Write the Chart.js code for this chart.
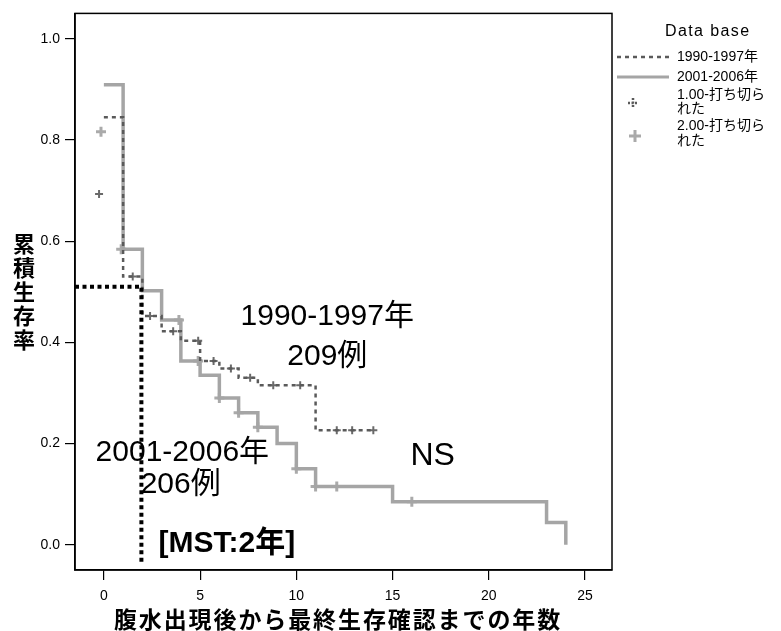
<!DOCTYPE html>
<html lang="ja">
<head>
<meta charset="utf-8">
<script src="https://cdn.jsdelivr.net/npm/chart.js@4.4.1/dist/chart.umd.min.js"></script>
<style>
  html, body { margin: 0; padding: 0; background: #fff; }
  .wrap { position: relative; width: 781px; height: 631px; }
</style>
</head>
<body>
<div class="wrap"><canvas id="km"></canvas></div>
<script>
// 1990-1997 group, KM steps (time in years, cumulative survival)
const oldTimes = [0, 1, 2, 3, 4, 5, 6, 7, 8, 11, 14];
const oldSurv  = [0.845, 0.53, 0.452, 0.422, 0.403, 0.363, 0.348, 0.33, 0.315, 0.226, 0.226];

// 2001-2006 group
const newTimes = [0, 1, 2, 3, 4, 5, 6, 7, 8, 9, 10, 11, 15, 23, 24];
const newSurv  = [0.909, 0.584, 0.502, 0.444, 0.363, 0.335, 0.29, 0.261, 0.232, 0.2, 0.15, 0.115, 0.085, 0.044, 0.0];

// censored cases (打ち切られた)
const oldCensTimes = [-0.25, 1.5, 2.4, 3.6, 4.9, 5.7, 6.6, 7.6, 8.8, 10.2, 12.1, 12.9, 14];
const oldCensSurv  = [0.693, 0.53, 0.452, 0.422, 0.403, 0.363, 0.348, 0.33, 0.315, 0.315, 0.226, 0.226, 0.226];
const newCensTimes = [-0.15, 0.9, 3.9, 4.9, 6, 7, 8, 10, 11, 12.1, 16];
const newCensSurv  = [0.816, 0.584, 0.444, 0.363, 0.29, 0.261, 0.232, 0.15, 0.115, 0.115, 0.085];

// median survival guide line
const mstTimes = [-1.5, 1.95, 1.95];
const mstSurv  = [0.51, 0.51, -0.04];

const xTicks = [0, 5, 10, 15, 20, 25];
const yTitle = ['累', '積', '生', '存', '率'];
const xTitle = '腹水出現後から最終生存確認までの年数';

const legendTitle = 'Data base';
const legendLabels = ['1990-1997年', '2001-2006年', ['1.00-打ち切ら', 'れた'], ['2.00-打ち切ら', 'れた']];

const notes = [
  { text: '1990-1997年', x: 7.1,  y: 0.451, bold: false, size: 30 },
  { text: '209例',       x: 9.53, y: 0.372, bold: false, size: 30 },
  { text: '2001-2006年', x: -0.43, y: 0.182, bold: false, size: 30 },
  { text: '206例',       x: 1.91, y: 0.118, bold: false, size: 30 },
  { text: '[MST:2年]',   x: 2.84, y: 0.002, bold: true,  size: 30 },
  { text: 'NS',          x: 15.93, y: 0.175, bold: false, size: 32 }
];

const FONT = '"Liberation Sans", Arial, "Noto Sans CJK JP", sans-serif';
const CJK = '"Noto Sans CJK JP", "Liberation Sans", sans-serif';

const pts = (xs, ys) => xs.map((x, i) => ({ x, y: ys[i] }));

function cross(ctx, x, y, r, color, w, dash) {
  ctx.save();
  ctx.strokeStyle = color;
  ctx.lineWidth = w;
  if (dash) ctx.setLineDash(dash);
  ctx.beginPath();
  ctx.moveTo(x - r, y); ctx.lineTo(x + r, y);
  ctx.moveTo(x, y - r); ctx.lineTo(x, y + r);
  ctx.stroke();
  ctx.restore();
}

const decor = {
  id: 'decor',
  afterDraw(chart) {
    const { ctx, chartArea: a, scales } = chart;
    ctx.save();
    // frame
    ctx.strokeStyle = '#000';
    ctx.lineWidth = 1.5;
    ctx.strokeRect(a.left, a.top, a.right - a.left, a.bottom - a.top);

    // annotations inside plot
    ctx.fillStyle = '#000';
    ctx.textBaseline = 'middle';
    ctx.textAlign = 'left';
    notes.forEach(n => {
      ctx.font = `${n.bold ? 'bold ' : ''}${n.size}px ${FONT}`;
      ctx.fillText(n.text, scales.x.getPixelForValue(n.x), scales.y.getPixelForValue(n.y));
    });

    // y title, stacked characters
    ctx.font = `bold 22px ${CJK}`;
    ctx.textAlign = 'center';
    yTitle.forEach((ch, i) => ctx.fillText(ch, 24, 244 + i * 24));

    // x title
    ctx.font = `bold 23px ${CJK}`;
    if ('letterSpacing' in ctx) ctx.letterSpacing = '1.9px';
    ctx.fillText(xTitle, 338, 619);
    if ('letterSpacing' in ctx) ctx.letterSpacing = '0px';

    // legend
    ctx.textAlign = 'left';
    ctx.font = `16px ${FONT}`;
    if ('letterSpacing' in ctx) ctx.letterSpacing = '1.4px';
    ctx.fillText(legendTitle, 665, 32);
    if ('letterSpacing' in ctx) ctx.letterSpacing = '0px';
    ctx.font = `14px ${FONT}`;
    const lx = 677;
    ctx.fillText(legendLabels[0], lx, 57);
    ctx.fillText(legendLabels[1], lx, 77);
    ctx.fillText(legendLabels[2][0], lx, 95);
    ctx.fillText(legendLabels[2][1], lx, 109);
    ctx.fillText(legendLabels[3][0], lx, 126);
    ctx.fillText(legendLabels[3][1], lx, 141);

    ctx.lineWidth = 2.5;
    ctx.strokeStyle = '#5a5a5a';
    ctx.setLineDash([4, 4]);
    ctx.beginPath(); ctx.moveTo(617, 57); ctx.lineTo(669, 57); ctx.stroke();
    ctx.setLineDash([]);
    ctx.lineWidth = 3;
    ctx.strokeStyle = '#a5a5a5';
    ctx.beginPath(); ctx.moveTo(617, 77); ctx.lineTo(669, 77); ctx.stroke();
    cross(ctx, 633, 103, 5, '#5a5a5a', 2.5, [2, 1.5]);
    cross(ctx, 635, 136, 6, '#aaaaaa', 3);
    ctx.restore();
  }
};

new Chart(document.getElementById('km'), {
  type: 'line',
  data: {
    datasets: [
      {
        label: 'MST',
        data: pts(mstTimes, mstSurv),
        borderColor: '#000',
        borderWidth: 4,
        borderDash: [4, 3.5],
        pointRadius: 0,
        order: 0
      },
      {
        label: legendLabels[0],
        data: pts(oldTimes, oldSurv),
        stepped: true,
        borderColor: '#5a5a5a',
        borderWidth: 2.5,
        borderDash: [4, 4],
        pointRadius: 0,
        order: 1
      },
      {
        label: legendLabels[1],
        data: pts(newTimes, newSurv),
        stepped: true,
        borderColor: '#a5a5a5',
        borderWidth: 3.5,
        pointRadius: 0,
        order: 3
      },
      {
        label: '1.00-打ち切られた',
        data: pts(oldCensTimes, oldCensSurv),
        showLine: false,
        pointStyle: 'cross',
        pointRadius: 4,
        pointBorderWidth: 2,
        pointBorderColor: '#6a6a6a',
        order: 2
      },
      {
        label: '2.00-打ち切られた',
        data: pts(newCensTimes, newCensSurv),
        showLine: false,
        pointStyle: 'cross',
        pointRadius: 5,
        pointBorderWidth: 3,
        pointBorderColor: '#aaaaaa',
        order: 4
      }
    ]
  },
  options: {
    responsive: true,
    maintainAspectRatio: false,
    animation: false,
    events: [],
    layout: { padding: { top: 12, right: 169, bottom: 0, left: 0 } },
    plugins: { legend: { display: false }, tooltip: { enabled: false } },
    scales: {
      x: {
        type: 'linear',
        min: -1.5,
        max: 26.4,
        afterFit: s => { s.height = 61; },
        afterBuildTicks: s => { s.ticks = xTicks.map(v => ({ value: v })); },
        grid: { drawOnChartArea: false, tickLength: 10, color: '#000', lineWidth: 1.2 },
        border: { color: '#000', width: 1.5 },
        ticks: { color: '#000', font: { family: FONT, size: 14 }, padding: 8, maxRotation: 0 }
      },
      y: {
        min: -0.05,
        max: 1.05,
        afterFit: s => { s.width = 75; },
        grid: { drawOnChartArea: false, tickLength: 10, color: '#000', lineWidth: 1.2 },
        border: { color: '#000', width: 1.5 },
        ticks: {
          stepSize: 0.2,
          includeBounds: false,
          color: '#000',
          font: { family: FONT, size: 14 },
          padding: 5,
          callback: v => v.toFixed(1)
        }
      }
    }
  },
  plugins: [decor]
});
</script>
</body>
</html>
